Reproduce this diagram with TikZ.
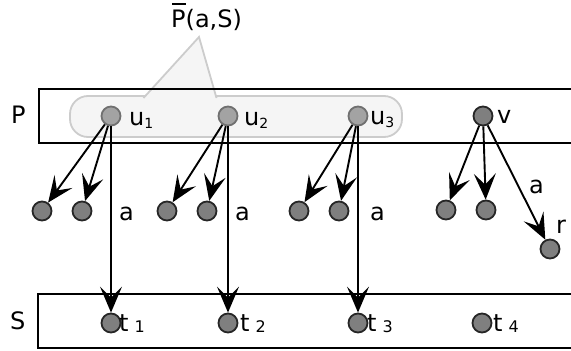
\documentclass[tikz,border=0pt]{standalone}
\usepackage{fontspec}
\setmainfont{DejaVu Sans}
\usetikzlibrary{arrows.meta}
\definecolor{cfill}{HTML}{F5F5F5}
\definecolor{cline}{HTML}{CCCCCC}
\definecolor{ufill}{HTML}{A3A3A3}
\definecolor{uline}{HTML}{707070}
\definecolor{nfill}{HTML}{7F7F7F}
\newcommand{\sbs}[1]{\raisebox{-3pt}{\fontsize{14}{16}\selectfont #1}}
\newcommand{\tsb}[1]{\hspace{6pt}\raisebox{-1pt}{\fontsize{16}{18}\selectfont #1}}
\begin{document}
\begin{tikzpicture}[x=1pt,y=-1pt,
  lbl/.style={inner sep=0pt, font=\fontsize{24}{28}\selectfont},
  unode/.style={circle, draw=uline, fill=ufill, line width=1.8pt, minimum size=19pt, inner sep=0pt},
  gnode/.style={circle, draw=black!85, fill=nfill, line width=1.8pt, minimum size=19pt, inner sep=0pt},
  arr/.style={line width=1.9pt, -{Stealth[length=26pt,width=22pt,inset=11pt]}},
  boxline/.style={line width=1.9pt, draw=black},
  callout/.style={fill=cfill, draw=cline, line width=1.8pt}
]
\useasboundingbox (0,0) rectangle (571,351);
% callout
\path[callout, rounded corners=18pt] (70,96) rectangle (402,137);
\filldraw[callout] (143.5,98) -- (199,37) -- (216.5,98);
\node[lbl, anchor=base west] (ptitle) at (171,27) {\makebox[0pt][l]{\hspace{1pt}\raisebox{22pt}{\rule{13.5pt}{1.6pt}}}P(a,S)};
% boxes
\draw[boxline] (571,89) -- (39,89) -- (39,143) -- (571,143);
\draw[boxline] (571,294) -- (38,294) -- (38,348) -- (571,348);
\node[lbl, anchor=base west] (plbl) at (11,123) {P};
\node[lbl, anchor=base west] (slbl) at (10,329) {S};
% nodes
\node[unode] (u1) at (111,116) {};
\node[unode] (u2) at (228,116) {};
\node[unode] (u3) at (358,116) {};
\node[gnode] (v) at (483,116) {};
\node[gnode] (c11) at (42,211) {};
\node[gnode] (c12) at (82,211) {};
\node[gnode] (c21) at (167,211) {};
\node[gnode] (c22) at (207,211) {};
\node[gnode] (c31) at (299,211) {};
\node[gnode] (c32) at (339,211) {};
\node[gnode] (c41) at (446,210) {};
\node[gnode] (c42) at (486,210) {};
\node[gnode] (r) at (550,249) {};
\node[gnode] (t1) at (111,323) {};
\node[gnode] (t2) at (228,323) {};
\node[gnode] (t3) at (358,323) {};
\node[gnode] (t4) at (482,323) {};
% arrows
\draw[arr] (u1) -- (c11);
\draw[arr] (u1) -- (c12);
\draw[arr] (u1) -- (t1);
\draw[arr] (u2) -- (c21);
\draw[arr] (u2) -- (c22);
\draw[arr] (u2) -- (t2);
\draw[arr] (u3) -- (c31);
\draw[arr] (u3) -- (c32);
\draw[arr] (u3) -- (t3);
\draw[arr] (v) -- (c41);
\draw[arr] (v) -- (c42);
\draw[arr] (v) -- (r);
% labels
\node[lbl, anchor=base west] (lu1) at (129,125) {u\sbs{1}};
\node[lbl, anchor=base west] (lu2) at (244,125) {u\sbs{2}};
\node[lbl, anchor=base west] (lu3) at (370,124) {u\sbs{3}};
\node[lbl, anchor=base west] (lv) at (497,123) {v};
\node[lbl, anchor=base west] (la1) at (119,220) {a};
\node[lbl, anchor=base west] (la2) at (235,220) {a};
\node[lbl, anchor=base west] (la3) at (370,220) {a};
\node[lbl, anchor=base west] (la4) at (529,193) {a};
\node[lbl, anchor=base west] (lr) at (556,233) {r};
\node[lbl, anchor=base west] (lt1) at (119,331) {t\tsb{1}};
\node[lbl, anchor=base west] (lt2) at (240,331) {t\tsb{2}};
\node[lbl, anchor=base west] (lt3) at (367,331) {t\tsb{3}};
\node[lbl, anchor=base west] (lt4) at (493,331) {t\tsb{4}};
\end{tikzpicture}
\end{document}
